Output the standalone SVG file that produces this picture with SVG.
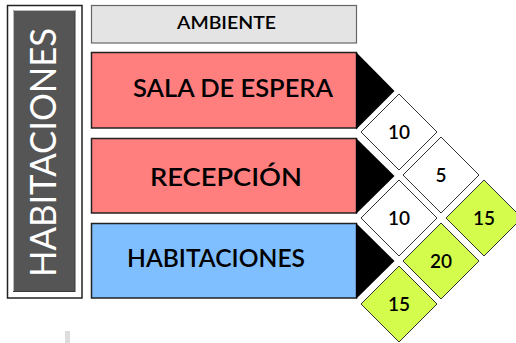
<svg xmlns="http://www.w3.org/2000/svg" width="516" height="343" viewBox="0 0 516 343">
<style>
.box{stroke:#222;stroke-width:1.5}
.lbl{font-family:Lato,"Open Sans","Liberation Sans",sans-serif;font-weight:600;fill:#000;text-anchor:middle}
.dia{stroke:#333;stroke-width:1}
.w{fill:#fff}
.g{fill:#d4fc4c}
.num{font-family:Lato,"Open Sans","Liberation Sans",sans-serif;font-weight:600;font-size:19px;fill:#000;text-anchor:middle}
.tri{fill:#000}
</style>
<rect width="516" height="343" fill="#fff"/>
<g id="titulo">
<rect x="7.5" y="5.5" width="74.5" height="292.5" fill="#fff" stroke="#222" stroke-width="1.5"/>
<rect x="13.5" y="10.5" width="61.5" height="281" fill="#555" stroke="#3a3a3a" stroke-width="1"/>
<path d="M13.5 291 V10.5 H75" fill="none" stroke="#bbb" stroke-width="1"/>
<text transform="translate(56,277) rotate(-90)" font-family="Lato,'Open Sans','Liberation Sans',sans-serif" font-size="36" fill="#fff" textLength="249" lengthAdjust="spacingAndGlyphs">HABITACIONES</text>
</g>
<g id="ambiente">
<rect x="91.5" y="5.5" width="265" height="37.5" fill="#e4e4e4" stroke="#666" stroke-width="1.2"/>
<text class="lbl" x="226.5" y="29" font-size="17" textLength="99" lengthAdjust="spacingAndGlyphs">AMBIENTE</text>
</g>
<g id="sala">
<rect class="box" x="91.5" y="52.5" width="265" height="75.5" fill="#ff7f7f"/>
<polygon class="tri" points="356,52 394.5,91 356,129.5"/>
<text class="lbl" x="233" y="97" font-size="24" textLength="200" lengthAdjust="spacingAndGlyphs">SALA DE ESPERA</text>
</g>
<g id="recepcion">
<rect class="box" x="91.5" y="138.5" width="265" height="74.5" fill="#ff7f7f"/>
<polygon class="tri" points="356,138 394.5,176 356,214"/>
<text class="lbl" x="226" y="186" font-size="24" textLength="152" lengthAdjust="spacingAndGlyphs">RECEPCIÓN</text>
</g>
<g id="habitaciones">
<rect class="box" x="91.5" y="223.5" width="265" height="74.5" fill="#7fbfff"/>
<polygon class="tri" points="356,223 394.5,261 356,299"/>
<text class="lbl" x="216" y="267" font-size="24" textLength="178" lengthAdjust="spacingAndGlyphs">HABITACIONES</text>
</g>
<g id="d1"><polygon class="dia w" points="399,94 437,132 399,170 361,132"/><text class="num" x="399" y="139">10</text></g>
<g id="d2"><polygon class="dia w" points="441,137 479,175 441,213 403,175"/><text class="num" x="441" y="182">5</text></g>
<g id="d3"><polygon class="dia w" points="399,180 437,218 399,256 361,218"/><text class="num" x="399" y="225">10</text></g>
<g id="d4"><polygon class="dia g" points="484,180 522,218 484,256 446,218"/><text class="num" x="484" y="225">15</text></g>
<g id="d5"><polygon class="dia g" points="441,223 479,261 441,299 403,261"/><text class="num" x="441" y="268">20</text></g>
<g id="d6"><polygon class="dia g" points="399,266 437,304 399,342 361,304"/><text class="num" x="399" y="311">15</text></g>
<g id="connectors"></g>
<rect x="65" y="331" width="5" height="12" fill="#ddd"/>
</svg>
